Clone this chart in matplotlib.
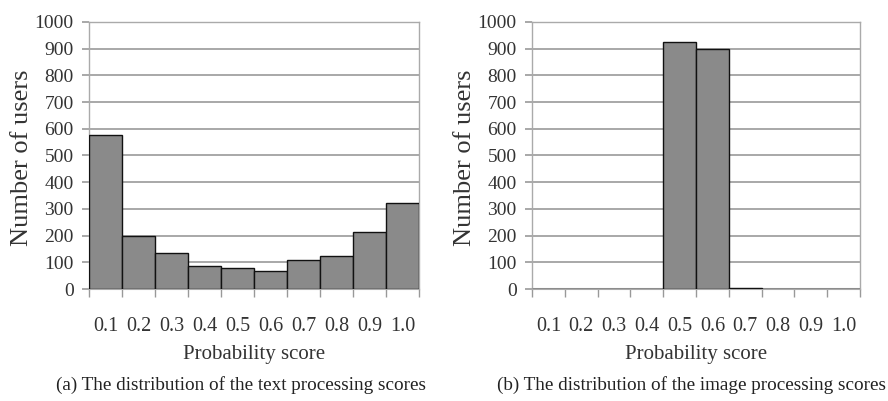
import matplotlib
matplotlib.use("Agg")
import matplotlib.pyplot as plt
import numpy as np

categories = ["0.1", "0.2", "0.3", "0.4", "0.5", "0.6", "0.7", "0.8", "0.9", "1.0"]
text_scores = [575, 200, 133, 87, 80, 68, 107, 125, 212, 322]
image_scores = [0, 0, 0, 0, 925, 900, 5, 0, 0, 0]
yticks = list(range(0, 1001, 100))

plt.rcParams['font.family'] = ['Liberation Serif', 'DejaVu Serif']

fig = plt.figure(figsize=(8.88, 4.01), dpi=100)
ax1 = fig.add_axes([89/888, 1-289/401, 330/888, 267/401])
ax2 = fig.add_axes([532/888, 1-289/401, 328/888, 267/401])

captions = ["(a) The distribution of the text processing scores",
            "(b) The distribution of the image processing scores"]
caption_x = [241/888, 691/888]
ylabel_x = [22/888, 465/888]

for i, (ax, vals) in enumerate([(ax1, text_scores), (ax2, image_scores)]):
    x = np.arange(len(categories))
    ax.bar(x, vals, width=1.0, color="#8a8a8a", edgecolor="#111111", linewidth=1.0, zorder=3)
    ax.set_xlim(-0.5, len(categories) - 0.5)
    ax.set_ylim(0, 1000)
    ax.set_yticks(yticks)
    ax.set_yticklabels([str(v) for v in yticks], fontsize=14, color="#333333")
    ax.set_xticks(x)
    ax.set_xticklabels(categories, fontsize=14.5, color="#333333")
    ax.set_xticks(np.arange(-0.5, len(categories), 1.0), minor=True)
    ax.tick_params(axis='x', which='major', length=0, pad=20)
    ax.tick_params(axis='x', which='minor', length=6, color="#999999", width=1)
    ax.tick_params(axis='y', length=5, color="#999999", width=1.2, pad=6)
    ax.grid(axis='y', color="#9a9a9a", linewidth=1.2, zorder=0)
    for side in ['top', 'right', 'left', 'bottom']:
        ax.spines[side].set_color("#aaaaaa")
        ax.spines[side].set_linewidth(1.0)
    ax.spines['bottom'].set_linewidth(1.5)
    fig.text(ylabel_x[i], 1 - 158/401, "Number of users", rotation=90,
             ha='center', va='center', fontsize=19, color="#333333")
    ax.text(0.5, -(355 - 289) / 267, "Probability score", transform=ax.transAxes,
            ha='center', va='center', fontsize=15, color="#333333")
    fig.text(caption_x[i], 1 - 385/401, captions[i], ha='center', va='center',
             fontsize=13.8, color="#222222")

fig.savefig("out.png", dpi=100)
